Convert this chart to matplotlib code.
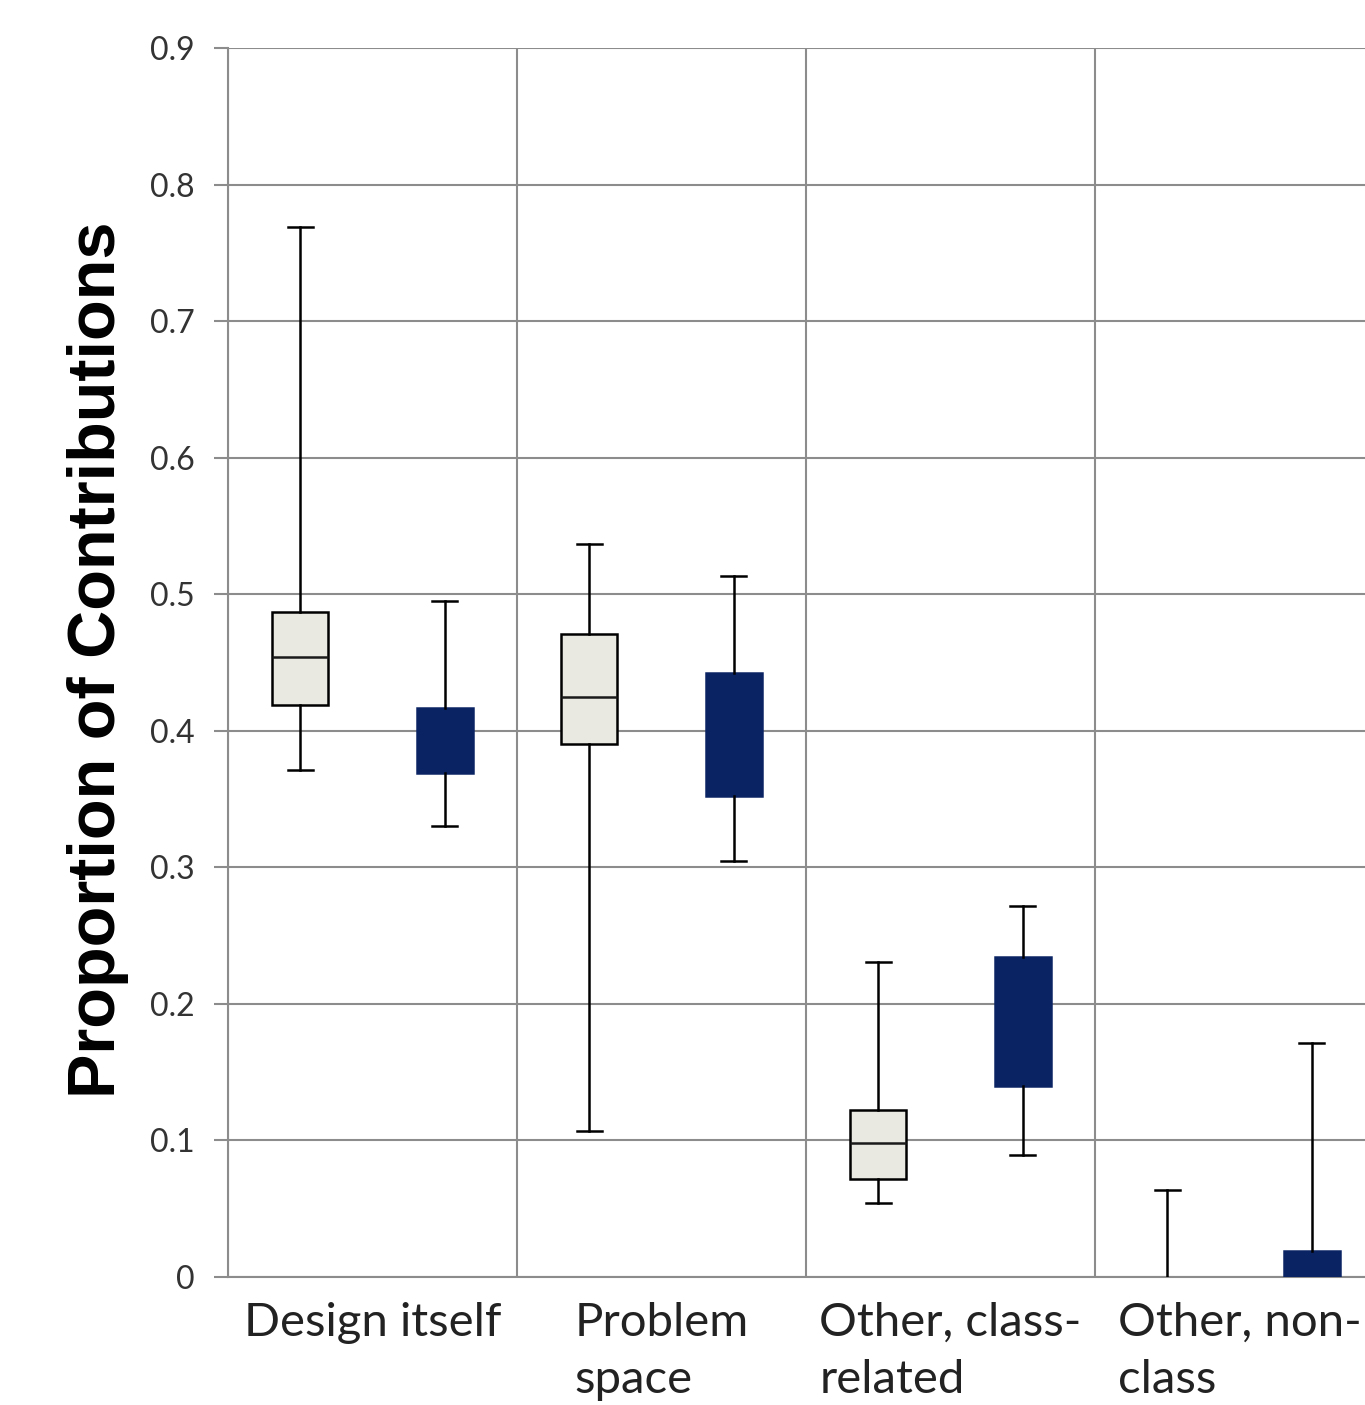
import matplotlib
matplotlib.use("Agg")
import matplotlib.pyplot as plt

categories = ["Design itself", "Problem\nspace", "Other, class-\nrelated", "Other, non-\nclass"]

# light series (whisker low, q1, median, q3, whisker high)
light_low = [0.371, 0.107, 0.054, 0.0]
light_q1 = [0.419, 0.390, 0.072, 0.0]
light_med = [0.454, 0.425, 0.098, 0.0]
light_q3 = [0.487, 0.471, 0.122, 0.0]
light_high = [0.769, 0.537, 0.231, 0.064]

# dark series
dark_low = [0.330, 0.305, 0.089, 0.0]
dark_q1 = [0.369, 0.352, 0.140, 0.0]
dark_med = [0.390, 0.400, 0.190, 0.0]
dark_q3 = [0.417, 0.442, 0.234, 0.019]
dark_high = [0.495, 0.513, 0.272, 0.171]

yticks = [0, 0.1, 0.2, 0.3, 0.4, 0.5, 0.6, 0.7, 0.8, 0.9]
ytick_labels = ["0", "0.1", "0.2", "0.3", "0.4", "0.5", "0.6", "0.7", "0.8", "0.9"]

LIGHT = "#E9E9E1"
DARK = "#0A2463"
GRID = "#8C8C8C"

fig = plt.figure(figsize=(13.65, 14.05), dpi=100)
ax = fig.add_axes([228 / 1365, 1 - 1277 / 1405, (1384 - 228) / 1365, (1277 - 48) / 1405])

def stats(low, q1, med, q3, high):
    return [dict(whislo=a, q1=b, med=c, q3=d, whishi=e, fliers=[])
            for a, b, c, d, e in zip(low, q1, med, q3, high)]

n = len(categories)
pos_light = [i + 0.25 for i in range(n)]
pos_dark = [i + 0.75 for i in range(n)]

common = dict(widths=0.195, showfliers=False, patch_artist=True, manage_ticks=False, zorder=3)
bl = ax.bxp(stats(light_low, light_q1, light_med, light_q3, light_high), positions=pos_light,
            boxprops=dict(facecolor=LIGHT, edgecolor="black", linewidth=1.8),
            medianprops=dict(color="#1a1a1a", linewidth=1.8),
            whiskerprops=dict(color="black", linewidth=1.8),
            capprops=dict(color="black", linewidth=1.8), capwidths=0.085, **common)
bd = ax.bxp(stats(dark_low, dark_q1, dark_med, dark_q3, dark_high), positions=pos_dark,
            boxprops=dict(facecolor=DARK, edgecolor=DARK, linewidth=1.8),
            medianprops=dict(color=DARK, linewidth=1.8),
            whiskerprops=dict(color="black", linewidth=1.8),
            capprops=dict(color="black", linewidth=1.8), capwidths=0.085, **common)

# hide elements that sit on the zero baseline (Excel draws nothing there)
for res, lows, q1s, q3s in ((bl, light_low, light_q1, light_q3), (bd, dark_low, dark_q1, dark_q3)):
    for i in range(n):
        if lows[i] == 0:
            res["caps"][2 * i].set_visible(False)
        if q1s[i] == 0 and q3s[i] == 0:
            res["boxes"][i].set_visible(False)
            res["medians"][i].set_visible(False)

ax.set_xlim(0, n)
ax.set_ylim(0, 0.9)
ax.set_yticks(yticks)
ax.set_yticklabels(ytick_labels, fontsize=23, color="#333333", family="Lato")
ax.set_xticks([i + 0.5 for i in range(n)])
ax.set_xticklabels(categories, fontsize=34, color="#222222", family="Lato",
                   multialignment="left", linespacing=1.45)
ax.tick_params(axis="x", length=0, pad=18)
ax.tick_params(axis="y", length=10, width=1.5, color=GRID, pad=14)

ax.set_xticks(range(n + 1), minor=True)
ax.tick_params(axis="x", which="minor", length=0)
ax.grid(True, axis="y", color=GRID, linewidth=1.5, zorder=0)
ax.grid(True, axis="x", which="minor", color=GRID, linewidth=1.5, zorder=0)
for s in ax.spines.values():
    s.set_visible(False)
for side in ("left", "bottom"):
    ax.spines[side].set_visible(True)
    ax.spines[side].set_color(GRID)
    ax.spines[side].set_linewidth(1.5)

fig.text(98 / 1365, 1 - 660 / 1405, "Proportion of Contributions", rotation=90,
         ha="center", va="center", fontsize=48, fontweight="bold", family="Liberation Sans")

fig.savefig("out.png", dpi=100)
